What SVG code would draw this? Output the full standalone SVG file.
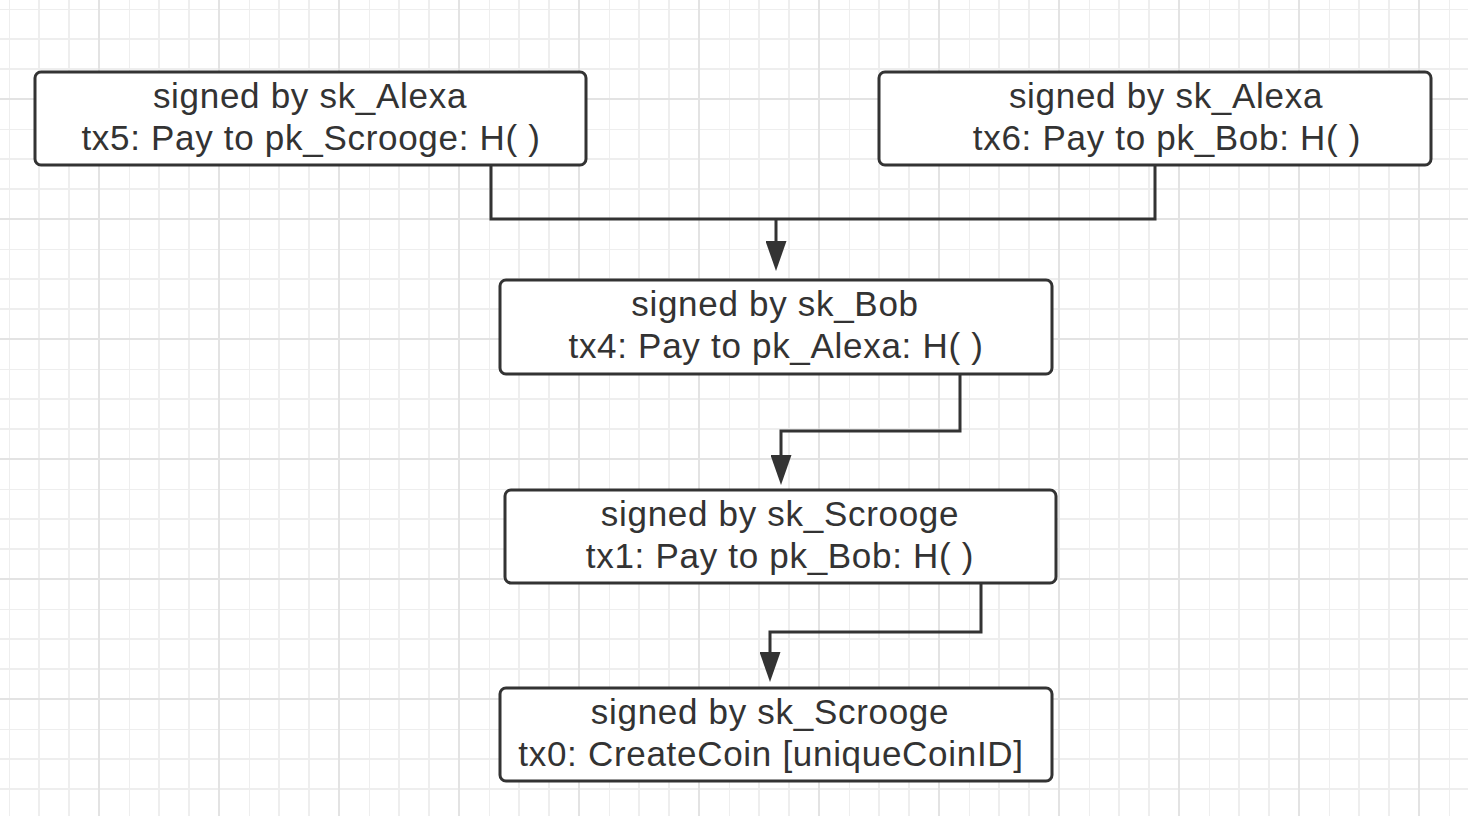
<svg xmlns="http://www.w3.org/2000/svg" width="1468" height="816" viewBox="0 0 1468 816">
  <defs>
    <pattern id="grid" x="9" y="9" width="120" height="120" patternUnits="userSpaceOnUse">
      <path d="M0 0V120M30 0V120M60 0V120M0 0H120M0 30H120M0 60H120" stroke="#eeeeee" stroke-width="2" fill="none"/>
      <path d="M90 0V120M0 90H120" stroke="#e3e3e3" stroke-width="2" fill="none"/>
    </pattern>
    <marker id="arrow" markerUnits="userSpaceOnUse" markerWidth="30" markerHeight="21" refX="0" refY="10.5" orient="auto" viewBox="0 0 30 21">
      <path d="M0 0L30 10.5L0 21Z" fill="#333333"/>
    </marker>
    <style>
      .box { fill: #ffffff; stroke: #333333; stroke-width: 3; }
      .lbl { font-family: "Liberation Sans", Arial, sans-serif; font-size: 35px; letter-spacing: 0.7px; fill: #333333; text-anchor: middle; }
      .conn { fill: none; stroke: #333333; stroke-width: 3; }
    </style>
  </defs>
  <rect width="1468" height="816" fill="#ffffff"/>
  <rect width="1468" height="816" fill="url(#grid)"/>

  <g id="connectors">
    <path class="conn" d="M491 166V219H1155V166"/>
    <path class="conn" d="M776 219V241" marker-end="url(#arrow)"/>
    <path class="conn" d="M960 375V431H781V455" marker-end="url(#arrow)"/>
    <path class="conn" d="M981 584V632H770V652" marker-end="url(#arrow)"/>
  </g>

  <g id="tx5">
    <rect class="box" x="35" y="72" width="551" height="93" rx="6"/>
    <text class="lbl" x="310" y="108">signed by sk_Alexa</text>
    <text class="lbl" x="311" y="150">tx5: Pay to pk_Scrooge: H( )</text>
  </g>
  <g id="tx6">
    <rect class="box" x="879" y="72" width="552" height="93" rx="6"/>
    <text class="lbl" x="1166" y="108">signed by sk_Alexa</text>
    <text class="lbl" x="1167" y="150">tx6: Pay to pk_Bob: H( )</text>
  </g>
  <g id="tx4">
    <rect class="box" x="500" y="280" width="552" height="94" rx="6"/>
    <text class="lbl" x="775" y="316">signed by sk_Bob</text>
    <text class="lbl" x="776" y="358">tx4: Pay to pk_Alexa: H( )</text>
  </g>
  <g id="tx1">
    <rect class="box" x="505" y="490" width="551" height="93" rx="6"/>
    <text class="lbl" x="780" y="526">signed by sk_Scrooge</text>
    <text class="lbl" x="780" y="568">tx1: Pay to pk_Bob: H( )</text>
  </g>
  <g id="tx0">
    <rect class="box" x="500" y="688" width="552" height="93" rx="6"/>
    <text class="lbl" x="770" y="724">signed by sk_Scrooge</text>
    <text class="lbl" x="771" y="766">tx0: CreateCoin [uniqueCoinID]</text>
  </g>
</svg>
